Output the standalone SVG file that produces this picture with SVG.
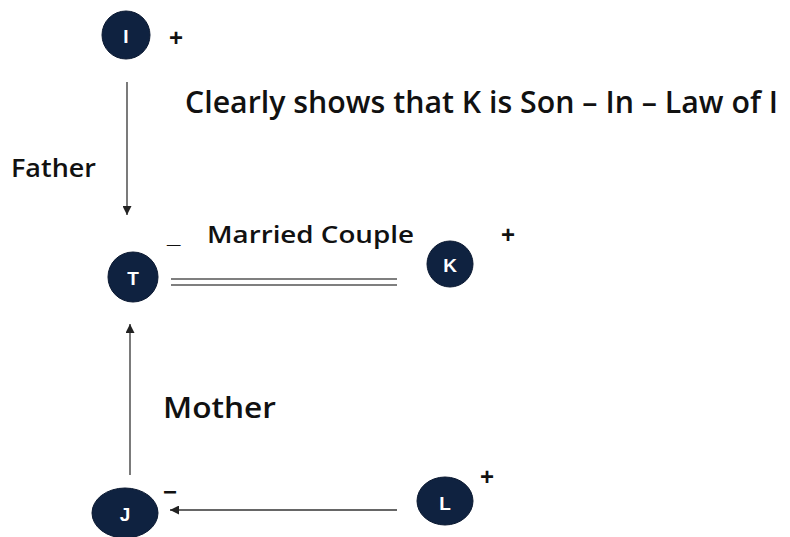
<svg xmlns="http://www.w3.org/2000/svg" width="790" height="537" viewBox="0 0 790 537">
<defs>
<style>
.node{fill:#0f2240;stroke:#0a1830;stroke-width:1}
.nl{font-family:"Liberation Sans",Arial,sans-serif;font-weight:bold;font-size:19px;fill:#ffffff;text-anchor:middle}
.lbl{font-family:"Open Sans","Liberation Sans",Arial,sans-serif;font-weight:600;fill:#111111}
.sign{font-family:"Liberation Sans",Arial,sans-serif;font-size:24px;fill:#111111;font-weight:bold}
.ln{stroke:#333;stroke-width:1.3;fill:none}
</style>
<marker id="ah" viewBox="0 0 10 10" refX="10" refY="5" markerWidth="9" markerHeight="9" markerUnits="userSpaceOnUse" orient="auto">
<path d="M0,0 L10,5 L0,10 z" fill="#222"/>
</marker>
</defs>
<rect width="790" height="537" fill="#ffffff"/>
<g id="connectors">
<line class="ln" x1="127" y1="82" x2="127" y2="215" marker-end="url(#ah)"/>
<line class="ln" x1="130" y1="475" x2="130" y2="324" marker-end="url(#ah)"/>
<line class="ln" x1="397" y1="510" x2="170" y2="510" marker-end="url(#ah)"/>
<line stroke="#555" stroke-width="1.5" x1="171" y1="279" x2="397" y2="279"/>
<line stroke="#555" stroke-width="1.5" x1="171" y1="285" x2="397" y2="285"/>
</g>
<g id="node-I">
<circle class="node" cx="126" cy="35" r="24"/>
<text class="nl" x="126" y="43">I</text>
<text class="sign" x="169" y="46">+</text>
</g>
<g id="node-T">
<circle class="node" cx="133" cy="277" r="25"/>
<text class="nl" x="133" y="285">T</text>
<text class="sign" x="167" y="243" font-size="31">_</text>
</g>
<g id="node-K">
<circle class="node" cx="450" cy="264" r="23"/>
<text class="nl" x="450" y="272">K</text>
<text class="sign" x="501" y="243">+</text>
</g>
<g id="node-J">
<ellipse class="node" cx="125" cy="513" rx="33" ry="25"/>
<text class="nl" x="125" y="521">J</text>
<text class="sign" x="163" y="500">−</text>
</g>
<g id="node-L">
<ellipse class="node" cx="445" cy="501" rx="28" ry="24"/>
<text class="nl" x="445" y="510">L</text>
<text class="sign" x="480" y="485">+</text>
</g>
<g id="labels">
<text class="lbl" x="185" y="113" font-size="31" textLength="593" lengthAdjust="spacingAndGlyphs">Clearly shows that K is Son – In – Law of I</text>
<text class="lbl" x="11" y="177" font-size="25" textLength="85" lengthAdjust="spacingAndGlyphs">Father</text>
<text class="lbl" x="207" y="243" font-size="24" textLength="207" lengthAdjust="spacingAndGlyphs">Married Couple</text>
<text class="lbl" x="163" y="418" font-size="28" textLength="113" lengthAdjust="spacingAndGlyphs">Mother</text>
</g>
</svg>
